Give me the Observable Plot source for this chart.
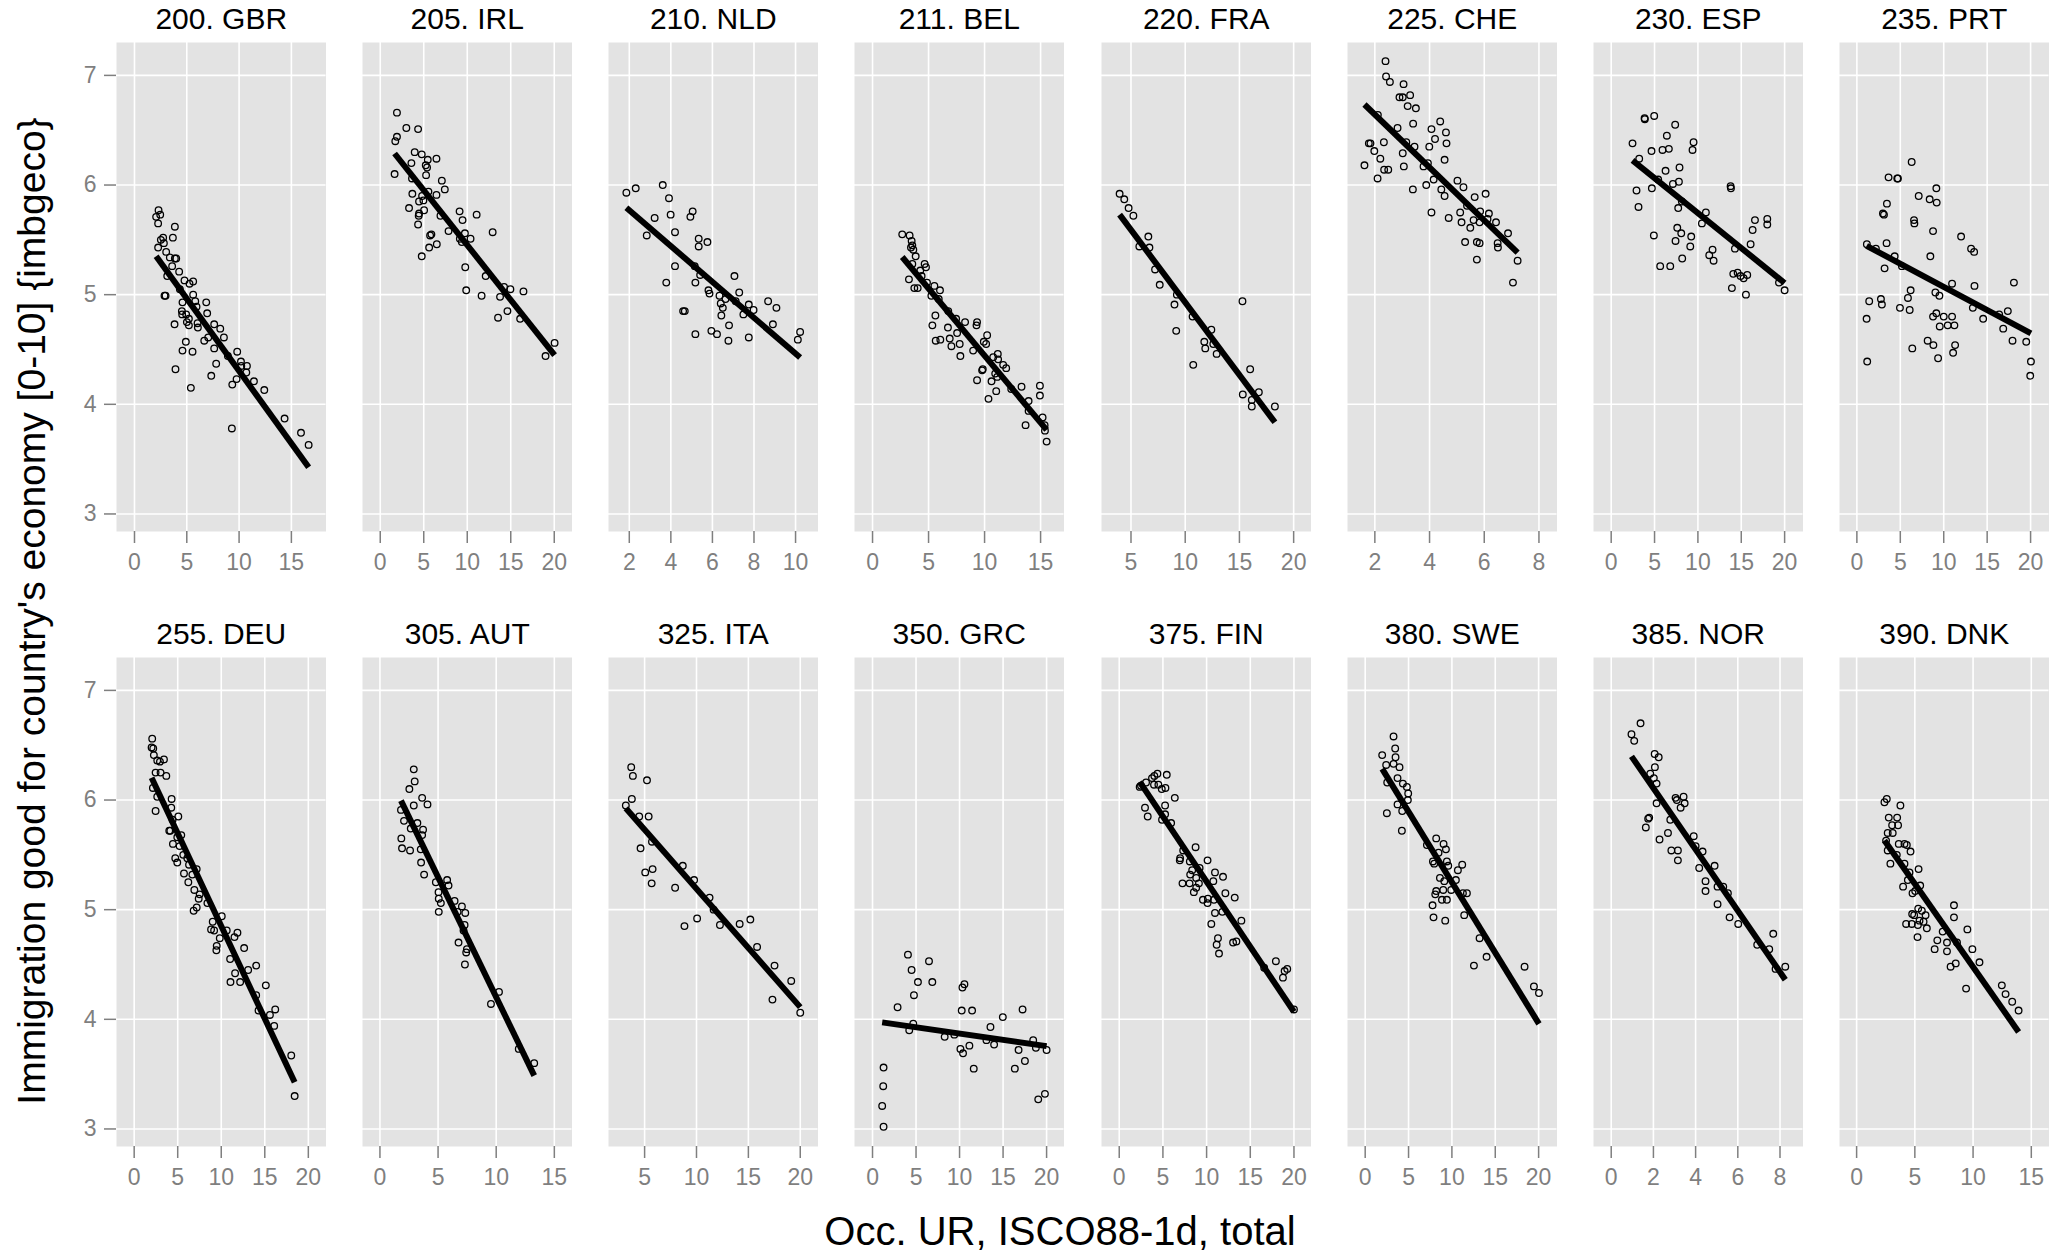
<!DOCTYPE html>
<html><head><meta charset="utf-8">
<script src="https://cdn.jsdelivr.net/npm/d3@7"></script>
<script src="https://cdn.jsdelivr.net/npm/@observablehq/plot@0.6"></script>
<style>
body{margin:0;background:#fff;font-family:"Liberation Sans",Arial,Helvetica,sans-serif;}
#root{position:relative;width:2059px;height:1252px;overflow:hidden;background:#fff;}
</style></head><body><div id="root"></div>
<script>
// ---- data: [x = Occ. UR, y = imbgeco] per country ----
const titles = ["200. GBR","205. IRL","210. NLD","211. BEL","220. FRA","225. CHE","230. ESP","235. PRT",
                "255. DEU","305. AUT","325. ITA","350. GRC","375. FIN","380. SWE","385. NOR","390. DNK"];

const GBR = [[2.30,5.77],[2.07,5.71],[2.46,5.73],[2.26,5.65],[3.86,5.62],[3.67,5.52],[2.52,5.50],[2.74,5.52],[2.81,5.47],[2.26,5.43],[3.03,5.39],[3.38,5.34],[3.86,5.33],[3.99,5.33],[3.60,5.26],[4.27,5.21],[3.13,5.17],[4.78,5.13],[5.61,5.12],[5.26,5.10],[2.87,4.99],[2.97,4.99],[4.34,5.05],[5.61,5.00],[5.81,4.94],[4.59,4.93],[6.86,4.93],[5.93,4.89],[4.53,4.85],[4.56,4.82],[4.94,4.82],[6.95,4.83],[5.20,4.78],[5.01,4.75],[5.20,4.72],[6.03,4.74],[6.06,4.70],[3.83,4.73],[7.62,4.73],[8.20,4.69],[8.55,4.61],[6.67,4.58],[7.05,4.61],[4.91,4.57],[4.59,4.49],[5.55,4.48],[7.62,4.51],[7.81,4.37],[7.34,4.26],[9.82,4.48],[8.93,4.44],[10.18,4.39],[10.21,4.35],[10.75,4.35],[10.69,4.29],[9.76,4.23],[9.35,4.18],[11.42,4.21],[12.41,4.13],[5.39,4.15],[3.92,4.32],[9.31,3.78],[14.35,3.87],[15.92,3.74],[16.65,3.63]];
const IRL = [[1.92,6.66],[3.00,6.52],[4.35,6.51],[1.92,6.44],[1.73,6.40],[3.96,6.30],[4.77,6.28],[5.46,6.23],[6.46,6.24],[3.58,6.20],[5.23,6.18],[5.38,6.16],[5.27,6.09],[1.65,6.10],[3.65,6.06],[7.08,6.04],[7.42,5.96],[5.54,5.94],[6.46,5.91],[3.69,5.92],[4.81,5.90],[4.96,5.86],[4.46,5.85],[3.31,5.79],[5.04,5.77],[4.46,5.74],[4.42,5.72],[4.35,5.64],[6.92,5.72],[9.12,5.76],[9.46,5.68],[11.08,5.73],[7.85,5.58],[5.88,5.55],[5.73,5.54],[9.73,5.56],[9.15,5.51],[9.38,5.48],[10.38,5.51],[12.92,5.57],[6.50,5.46],[5.62,5.43],[4.77,5.35],[9.77,5.25],[12.12,5.17],[9.88,5.04],[11.65,4.99],[13.77,4.98],[14.23,5.07],[14.96,5.05],[16.46,5.03],[14.62,4.85],[13.54,4.79],[16.08,4.78],[20.04,4.56],[19.00,4.44]];
const NLD = [[1.86,5.93],[2.31,5.97],[3.61,6.00],[3.91,5.88],[3.22,5.70],[3.99,5.73],[5.05,5.76],[4.94,5.71],[2.84,5.54],[4.20,5.57],[5.34,5.51],[5.34,5.44],[5.76,5.48],[4.20,5.26],[5.15,5.26],[5.41,5.18],[3.78,5.11],[5.18,5.11],[7.06,5.17],[5.81,5.04],[5.86,5.01],[7.29,5.02],[6.34,4.99],[6.63,4.96],[6.40,4.92],[6.50,4.88],[7.12,4.94],[7.75,4.91],[7.98,4.86],[7.49,4.82],[8.68,4.94],[9.08,4.88],[4.59,4.85],[4.67,4.85],[6.43,4.81],[6.80,4.72],[8.91,4.73],[5.95,4.67],[6.22,4.64],[5.18,4.64],[6.77,4.58],[7.75,4.61],[10.22,4.66],[10.11,4.59]];
const BEL = [[2.65,5.55],[3.31,5.54],[3.49,5.49],[3.55,5.45],[3.43,5.43],[3.64,5.41],[3.85,5.35],[3.55,5.28],[4.65,5.28],[4.77,5.25],[4.26,5.22],[4.38,5.17],[3.25,5.14],[4.86,5.11],[3.73,5.06],[4.03,5.06],[5.52,5.08],[5.25,4.99],[6.02,5.04],[5.91,4.96],[6.76,4.85],[5.61,4.81],[7.46,4.78],[8.26,4.75],[9.33,4.75],[9.28,4.72],[5.34,4.72],[6.73,4.70],[7.55,4.65],[6.89,4.60],[6.05,4.59],[5.64,4.58],[7.78,4.55],[7.04,4.53],[10.23,4.63],[9.93,4.57],[10.14,4.55],[8.98,4.49],[7.84,4.44],[11.18,4.46],[10.77,4.43],[11.21,4.41],[11.66,4.36],[11.93,4.33],[9.84,4.32],[9.78,4.31],[10.95,4.28],[11.13,4.25],[10.62,4.21],[9.33,4.22],[11.04,4.12],[10.35,4.05],[12.38,4.14],[13.30,4.16],[14.94,4.17],[14.94,4.08],[13.93,4.03],[13.93,3.94],[13.66,3.81],[15.18,3.88],[15.36,3.81],[15.39,3.76],[15.54,3.66]];
const FRA = [[3.95,5.92],[4.38,5.87],[4.78,5.79],[5.22,5.72],[6.60,5.53],[5.77,5.44],[6.70,5.43],[7.22,5.23],[7.65,5.09],[9.23,5.00],[9.01,4.91],[9.17,4.67],[10.68,4.80],[12.41,4.68],[11.76,4.57],[11.85,4.51],[12.59,4.55],[12.90,4.46],[10.74,4.36],[15.28,4.94],[15.99,4.32],[15.31,4.09],[16.79,4.11],[16.14,4.04],[16.14,3.98],[18.27,3.98]];
const CHE = [[2.39,7.13],[2.41,6.99],[2.55,6.94],[3.05,6.92],[2.90,6.80],[3.02,6.80],[3.29,6.82],[3.20,6.72],[3.50,6.70],[2.11,6.64],[3.40,6.56],[4.39,6.58],[2.83,6.52],[4.07,6.51],[4.60,6.48],[4.20,6.42],[1.78,6.38],[1.84,6.38],[2.33,6.39],[3.15,6.39],[4.62,6.38],[1.98,6.31],[3.02,6.29],[3.45,6.35],[3.99,6.35],[2.20,6.24],[4.55,6.23],[1.62,6.18],[3.06,6.17],[2.34,6.14],[2.49,6.14],[3.78,6.17],[3.94,6.20],[2.10,6.06],[4.15,6.05],[5.02,6.04],[3.88,6.00],[5.24,5.98],[3.39,5.96],[4.43,5.96],[4.55,5.90],[6.05,5.92],[5.65,5.89],[5.37,5.81],[4.07,5.75],[5.12,5.75],[6.17,5.74],[5.85,5.76],[4.70,5.70],[5.61,5.68],[5.83,5.66],[5.17,5.66],[6.43,5.66],[6.12,5.69],[5.49,5.61],[6.87,5.56],[5.30,5.48],[5.73,5.48],[5.83,5.47],[6.49,5.47],[6.50,5.43],[5.73,5.32],[7.22,5.31],[7.05,5.11]];
const ESP = [[3.85,6.61],[3.88,6.60],[4.96,6.63],[7.38,6.55],[6.42,6.45],[2.46,6.38],[9.50,6.39],[9.38,6.32],[4.65,6.31],[5.92,6.32],[6.65,6.33],[3.23,6.24],[7.88,6.16],[6.27,6.13],[5.42,6.05],[7.81,6.03],[7.12,6.01],[13.77,5.99],[13.81,5.97],[2.92,5.95],[4.69,5.97],[3.15,5.80],[7.73,5.79],[8.15,5.85],[10.92,5.75],[10.46,5.65],[16.58,5.68],[18.00,5.69],[18.00,5.64],[16.31,5.59],[7.62,5.61],[8.08,5.56],[4.92,5.54],[9.23,5.53],[7.42,5.49],[9.12,5.44],[16.08,5.46],[11.69,5.41],[14.27,5.42],[11.31,5.36],[11.81,5.31],[8.19,5.33],[5.65,5.26],[6.81,5.26],[14.08,5.19],[14.58,5.20],[14.92,5.17],[15.27,5.15],[15.69,5.18],[13.92,5.06],[15.54,5.00],[19.35,5.11],[20.00,5.04]];
const PRT = [[6.31,6.21],[3.65,6.07],[4.65,6.06],[4.73,6.06],[9.15,5.97],[7.12,5.90],[8.38,5.87],[9.19,5.84],[3.46,5.83],[3.00,5.74],[3.12,5.73],[6.58,5.68],[6.62,5.65],[8.77,5.58],[12.00,5.53],[1.15,5.46],[2.19,5.42],[3.42,5.47],[13.15,5.42],[13.50,5.39],[4.35,5.35],[8.46,5.35],[5.19,5.26],[3.19,5.24],[10.96,5.10],[13.54,5.08],[18.08,5.11],[6.19,5.04],[9.04,5.02],[9.50,4.99],[2.77,4.96],[5.88,4.97],[1.42,4.94],[2.88,4.91],[4.96,4.88],[6.08,4.86],[13.35,4.88],[17.38,4.85],[9.15,4.83],[8.77,4.80],[10.00,4.80],[10.96,4.80],[14.54,4.78],[16.38,4.82],[1.12,4.78],[9.54,4.71],[10.46,4.72],[11.23,4.72],[16.85,4.69],[8.15,4.58],[8.81,4.54],[11.31,4.54],[17.92,4.58],[19.50,4.57],[6.38,4.51],[11.08,4.47],[9.35,4.42],[1.19,4.39],[20.04,4.39],[19.96,4.26]];
const DEU = [[2.07,6.56],[2.00,6.48],[2.19,6.47],[2.26,6.41],[2.65,6.36],[2.96,6.35],[3.42,6.37],[2.46,6.25],[3.03,6.25],[3.69,6.22],[2.15,6.11],[2.65,6.03],[4.30,6.01],[2.46,5.90],[4.26,5.93],[5.07,5.85],[4.41,5.82],[4.03,5.72],[4.15,5.72],[5.41,5.68],[4.95,5.66],[4.45,5.60],[5.22,5.58],[4.72,5.47],[4.95,5.43],[5.64,5.50],[6.10,5.47],[6.30,5.41],[7.18,5.37],[5.72,5.33],[6.68,5.32],[6.22,5.25],[6.91,5.18],[7.52,5.14],[7.41,5.10],[8.41,5.06],[7.18,5.02],[6.83,4.99],[10.06,4.94],[9.02,4.89],[8.83,4.82],[9.18,4.81],[10.63,4.81],[11.86,4.79],[9.83,4.74],[11.52,4.75],[9.48,4.67],[9.44,4.63],[12.63,4.65],[11.02,4.55],[13.09,4.45],[14.01,4.49],[11.59,4.42],[11.06,4.34],[12.17,4.34],[15.12,4.31],[14.01,4.22],[14.28,4.08],[15.59,4.04],[16.20,4.09],[16.08,3.94],[18.04,3.67],[18.43,3.30]];
const AUT = [[2.91,6.28],[2.99,6.17],[2.53,6.10],[3.63,6.02],[4.09,5.96],[2.91,5.95],[1.81,5.91],[2.07,5.81],[3.22,5.79],[2.65,5.74],[3.71,5.73],[3.63,5.68],[1.84,5.65],[1.90,5.56],[2.59,5.54],[3.51,5.55],[3.54,5.43],[3.80,5.32],[4.81,5.25],[5.78,5.27],[5.90,5.22],[5.04,5.16],[5.06,5.10],[5.24,5.06],[5.06,4.98],[6.42,5.08],[7.05,5.03],[7.34,4.97],[6.68,4.98],[7.28,4.86],[7.19,4.81],[6.76,4.70],[7.48,4.64],[7.42,4.61],[7.31,4.50],[10.24,4.25],[9.55,4.14],[11.94,3.73],[13.27,3.60]];
const ITA = [[3.71,6.30],[3.87,6.22],[5.23,6.18],[3.77,6.01],[3.19,5.95],[4.48,5.85],[5.39,5.85],[5.71,5.62],[4.61,5.56],[5.77,5.37],[5.06,5.34],[5.68,5.24],[8.68,5.40],[7.94,5.20],[9.77,5.27],[11.26,5.11],[11.65,5.00],[8.84,4.85],[10.06,4.92],[12.26,4.86],[14.16,4.87],[15.19,4.91],[15.84,4.66],[17.52,4.49],[17.32,4.18],[19.13,4.35],[20.00,4.06]];
const GRC = [[4.07,4.59],[6.49,4.53],[4.49,4.45],[5.22,4.34],[6.87,4.34],[4.76,4.22],[10.56,4.32],[10.33,4.29],[2.88,4.11],[10.25,4.08],[11.44,4.08],[17.24,4.09],[14.97,4.02],[4.68,3.96],[4.22,3.90],[13.55,3.93],[8.29,3.84],[9.40,3.86],[13.09,3.81],[11.13,3.76],[13.97,3.77],[10.10,3.73],[10.40,3.69],[18.46,3.81],[18.77,3.74],[16.78,3.72],[20.00,3.72],[17.51,3.62],[16.35,3.55],[11.63,3.55],[1.27,3.56],[1.23,3.39],[1.11,3.21],[1.27,3.02],[19.04,3.27],[19.81,3.32]];
const FIN = [[4.37,6.24],[4.02,6.22],[5.44,6.23],[3.75,6.20],[2.49,6.13],[2.34,6.12],[3.07,6.16],[3.98,6.14],[4.48,6.14],[4.87,6.10],[5.29,6.11],[6.36,6.02],[2.95,5.93],[3.26,5.85],[5.25,5.95],[5.25,5.87],[4.90,5.82],[5.94,5.79],[7.32,5.54],[8.74,5.57],[6.97,5.47],[6.93,5.45],[8.08,5.44],[10.11,5.45],[9.20,5.38],[8.35,5.36],[8.12,5.32],[10.96,5.34],[11.88,5.30],[8.81,5.29],[10.77,5.26],[9.12,5.24],[7.24,5.24],[8.05,5.24],[8.81,5.20],[8.54,5.16],[12.15,5.15],[13.22,5.11],[10.15,5.10],[9.58,5.09],[10.84,5.09],[10.11,5.06],[10.96,4.97],[11.80,4.98],[13.98,4.90],[10.54,4.87],[11.30,4.74],[11.15,4.68],[11.42,4.60],[13.03,4.70],[13.41,4.71],[16.59,4.47],[17.93,4.53],[19.23,4.46],[18.93,4.44],[18.74,4.38],[20.00,4.09]];
const SWE = [[3.27,6.58],[3.46,6.47],[1.96,6.41],[3.50,6.39],[2.42,6.32],[3.27,6.33],[3.96,6.30],[3.73,6.20],[2.54,6.16],[4.35,6.15],[4.81,6.12],[4.96,6.06],[4.92,6.00],[3.73,5.96],[4.27,5.90],[2.50,5.88],[4.23,5.72],[8.19,5.65],[9.04,5.60],[9.31,5.55],[8.46,5.52],[7.12,5.59],[7.81,5.44],[7.96,5.42],[9.42,5.44],[9.58,5.40],[11.19,5.41],[10.69,5.36],[8.62,5.29],[9.12,5.26],[10.46,5.27],[9.92,5.18],[9.00,5.18],[8.19,5.17],[8.08,5.14],[8.85,5.09],[9.42,5.09],[11.27,5.15],[11.73,5.15],[7.77,5.04],[7.88,4.93],[9.23,4.90],[11.42,4.95],[13.19,4.74],[14.00,4.57],[12.54,4.49],[18.38,4.48],[19.46,4.30],[20.04,4.24]];
const NOR = [[1.39,6.70],[0.96,6.60],[1.09,6.54],[2.06,6.42],[2.25,6.39],[2.07,6.30],[1.85,6.24],[2.02,6.20],[2.15,6.15],[3.05,6.02],[3.11,6.00],[3.43,6.03],[3.48,5.97],[3.29,5.93],[2.15,5.97],[1.80,5.84],[1.75,5.83],[2.80,5.82],[1.64,5.75],[2.69,5.70],[2.29,5.64],[3.91,5.67],[4.00,5.58],[4.33,5.53],[2.85,5.54],[3.16,5.54],[3.16,5.45],[4.17,5.38],[4.90,5.40],[4.47,5.26],[4.47,5.17],[5.04,5.21],[5.31,5.21],[5.53,5.15],[5.04,5.05],[5.61,4.93],[6.02,4.87],[7.68,4.78],[6.92,4.68],[7.49,4.64],[7.79,4.46],[8.25,4.48]];
const DNK = [[2.59,6.01],[2.39,5.98],[3.76,5.95],[2.76,5.84],[3.48,5.84],[3.05,5.77],[3.56,5.77],[2.67,5.70],[3.10,5.70],[2.53,5.63],[3.62,5.60],[4.11,5.60],[4.31,5.59],[4.63,5.53],[2.67,5.54],[3.45,5.50],[2.90,5.42],[4.11,5.42],[4.54,5.34],[5.32,5.37],[4.40,5.27],[5.46,5.22],[3.99,5.21],[4.80,5.15],[5.03,5.17],[8.36,5.04],[5.29,5.01],[5.60,4.99],[4.77,4.96],[4.94,4.95],[5.92,4.95],[8.36,4.93],[5.40,4.90],[5.75,4.89],[4.25,4.87],[4.74,4.87],[5.26,4.86],[6.03,4.83],[9.51,4.82],[5.23,4.75],[7.39,4.80],[6.93,4.72],[7.76,4.70],[8.62,4.70],[6.70,4.64],[9.94,4.64],[7.76,4.62],[10.55,4.52],[8.51,4.51],[8.07,4.48],[9.40,4.28],[12.47,4.31],[12.79,4.23],[13.36,4.16],[13.91,4.08]];

const pointSets = [GBR, IRL, NLD, BEL, FRA, CHE, ESP, PRT, DEU, AUT, ITA, GRC, FIN, SWE, NOR, DNK];

// x-axis limits (free scales per panel) and tick labels
const xDomains = [[-1.72,18.31],[-2.04,22.04],[1.00,11.08],[-1.61,17.09],[2.28,21.60],[1.00,8.66],[-2.04,22.12],[-2.00,22.12],
                  [-2.03,22.03],[-1.50,16.52],[1.52,21.71],[-2.07,22.00],[-2.03,21.95],[-2.04,22.12],[-0.84,9.09],[-1.47,16.52]];
const xTicks = [[0,5,10,15],[0,5,10,15,20],[2,4,6,8,10],[0,5,10,15],[5,10,15,20],[2,4,6,8],[0,5,10,15,20],[0,5,10,15,20],
                [0,5,10,15,20],[0,5,10,15],[5,10,15,20],[0,5,10,15,20],[0,5,10,15,20],[0,5,10,15,20],[0,2,4,6,8],[0,5,10,15]];
const yDomain = [2.84, 7.30];
const yTicks = [3,4,5,6,7];

const xTitle = "Occ. UR, ISCO88-1d, total";
const yTitle = "Immigration good for country's economy [0-10] {imbgeco}";

// ---- layout ----
const FONT = '"Liberation Sans", Arial, Helvetica, sans-serif';
const root = document.getElementById("root");
const PANEL_W = 209.5, PANEL_H = 489;
const colLeft = c => 115.5 + 246.28 * c;
const rowTop = [42, 656.5];
const ML = 60, MR = 6, MT = 50, MB = 60;
const fmt = d => String(d);

titles.forEach((t, i) => {
  const col = i % 8, row = Math.floor(i / 8);
  const pts = pointSets[i].map(([x, y]) => ({x, y}));
  const marks = [
    Plot.frame({fill: "#E3E3E3", stroke: "none"}),
    Plot.gridX(xTicks[i], {stroke: "white", strokeOpacity: 1, strokeWidth: 1.6}),
    Plot.gridY(yTicks, {stroke: "white", strokeOpacity: 1, strokeWidth: 1.6}),
    Plot.axisX(xTicks[i], {tickSize: 12, tickPadding: 10, fontSize: 23, color: "#7f7f7f", label: null, strokeWidth: 1.5, tickFormat: fmt}),
    Plot.dot(pts, {x: "x", y: "y", r: 3.3, stroke: "black", strokeWidth: 1.3, fill: "none"}),
    Plot.linearRegressionY(pts, {x: "x", y: "y", stroke: "black", strokeWidth: 6, ci: 0, strokeLinecap: "butt"}),
    Plot.text([t], {text: d => d, frameAnchor: "top", dy: -14, lineAnchor: "bottom", fontSize: 30, fill: "black"})
  ];
  if (col === 0) marks.push(Plot.axisY(yTicks, {tickSize: 12, tickPadding: 8, fontSize: 23, color: "#7f7f7f", label: null, strokeWidth: 1.5, tickFormat: fmt}));
  const svg = Plot.plot({
    width: PANEL_W + ML + MR, height: PANEL_H + MT + MB,
    marginLeft: ML, marginRight: MR, marginTop: MT, marginBottom: MB,
    x: {domain: xDomains[i]},
    y: {domain: yDomain, axis: col === 0 ? undefined : null},
    style: {fontFamily: FONT, background: "transparent", overflow: "visible", color: "black"},
    marks
  });
  svg.style.position = "absolute";
  svg.style.left = (colLeft(col) - ML) + "px";
  svg.style.top = (rowTop[row] - MT) + "px";
  root.appendChild(svg);
});

// axis titles
const ns = "http://www.w3.org/2000/svg";
const ov = document.createElementNS(ns, "svg");
ov.setAttribute("width", 2059); ov.setAttribute("height", 1252);
ov.style.position = "absolute"; ov.style.left = "0px"; ov.style.top = "0px"; ov.style.pointerEvents = "none";
const xt = document.createElementNS(ns, "text");
xt.setAttribute("x", 1060); xt.setAttribute("y", 1245);
xt.setAttribute("text-anchor", "middle"); xt.setAttribute("font-size", 40);
xt.setAttribute("font-family", FONT); xt.textContent = xTitle;
ov.appendChild(xt);
const yt = document.createElementNS(ns, "text");
yt.setAttribute("transform", "translate(45,611) rotate(-90)");
yt.setAttribute("text-anchor", "middle"); yt.setAttribute("font-size", 39);
yt.setAttribute("font-family", FONT); yt.textContent = yTitle;
ov.appendChild(yt);
root.appendChild(ov);
</script></body></html>
